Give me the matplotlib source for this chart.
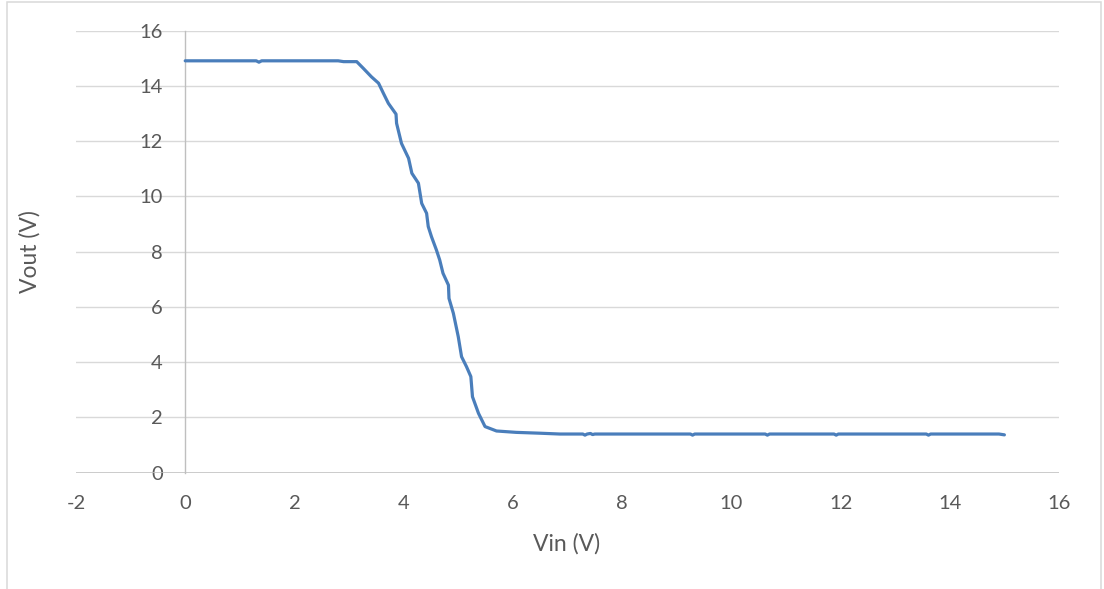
import matplotlib
matplotlib.use("Agg")
import matplotlib.pyplot as plt
from matplotlib.patches import Rectangle

# Inverter transfer characteristic: input voltage sweep vs. output voltage
vin = [0.0, 0.5, 1.0, 1.3, 1.35, 1.4, 2.0, 2.5, 2.8, 2.9, 3.1,
       3.14, 3.26, 3.41, 3.54, 3.63, 3.72, 3.86, 3.87, 3.96, 4.09,
       4.15, 4.27, 4.33, 4.42, 4.45, 4.51, 4.60, 4.66, 4.72, 4.82,
       4.83, 4.91, 5.00, 5.06, 5.15, 5.23, 5.26, 5.37, 5.49, 5.70,
       6.06, 6.49, 6.86, 7.0, 7.28, 7.32, 7.36, 7.42, 7.46, 7.5,
       9.25, 9.29, 9.33, 10.62, 10.66, 10.70, 11.88, 11.92, 11.96,
       13.57, 13.61, 13.65, 14.9, 15.0]
vout = [14.91, 14.91, 14.91, 14.91, 14.86, 14.91, 14.91, 14.91, 14.91, 14.88, 14.88,
        14.88, 14.64, 14.33, 14.10, 13.73, 13.37, 12.98, 12.65, 11.92, 11.38,
        10.84, 10.48, 9.75, 9.39, 8.91, 8.54, 8.06, 7.70, 7.22, 6.79,
        6.31, 5.77, 4.92, 4.20, 3.84, 3.48, 2.75, 2.15, 1.67, 1.51,
        1.46, 1.43, 1.40, 1.40, 1.40, 1.36, 1.40, 1.42, 1.38, 1.40,
        1.40, 1.36, 1.40, 1.40, 1.36, 1.40, 1.40, 1.36, 1.40,
        1.40, 1.36, 1.40, 1.40, 1.37]

x_ticks = [-2, 0, 2, 4, 6, 8, 10, 12, 14, 16]
y_ticks = [0, 2, 4, 6, 8, 10, 12, 14, 16]
x_title = "Vin (V)"
y_title = "Vout (V)"

W, H = 1104, 589
plt.rcParams["font.family"] = ["Lato", "DejaVu Sans"]
fig = plt.figure(figsize=(W / 100, H / 100), dpi=100)
fig.patch.set_facecolor("white")

# chart frame
fig.patches.append(Rectangle((7 / W, -0.05), (1101 - 7) / W, 1 - 2 / H + 0.05,
                             transform=fig.transFigure, fill=False,
                             edgecolor="#D9D9D9", linewidth=1.1, zorder=0))

left, right = 76 / W, 1059 / W
top, bottom = 1 - 30.7 / H, 1 - 472.7 / H
ax = fig.add_axes([left, bottom, right - left, top - bottom])
ax.set_xlim(-2, 16)
ax.set_ylim(0, 16)

for s in ["top", "right", "bottom"]:
    ax.spines[s].set_visible(False)
ax.spines["left"].set_position(("data", 0))
ax.spines["left"].set_color("#BFBFBF")
ax.spines["left"].set_linewidth(1.0)
ax.spines["left"].set_zorder(1)

ax.set_xticks(x_ticks)
ax.set_yticks(y_ticks)
ax.set_xticklabels([str(t) for t in x_ticks])
ax.set_yticklabels([str(t) for t in y_ticks])
ax.tick_params(axis="both", length=0, labelsize=14.5, labelcolor="#595959")
ax.tick_params(axis="x", pad=16)
ax.tick_params(axis="y", pad=16)

ax.yaxis.grid(True, color="#D9D9D9", linewidth=1.0, zorder=0)
ax.set_axisbelow(True)
ax.axhline(0, color="#BFBFBF", linewidth=1.1, zorder=1)

ax.plot(vin, vout, color="#4A7EBB", linewidth=2.3,
        solid_joinstyle="round", solid_capstyle="round", zorder=3)

fig.text(567 / W, 1 - 544 / H, x_title, ha="center", va="center",
         fontsize=16.5, color="#595959")
fig.text(30 / W, 1 - 252 / H, y_title, ha="center", va="center",
         rotation=90, fontsize=16.5, color="#595959")

fig.savefig("out.png", dpi=100, facecolor="white")
